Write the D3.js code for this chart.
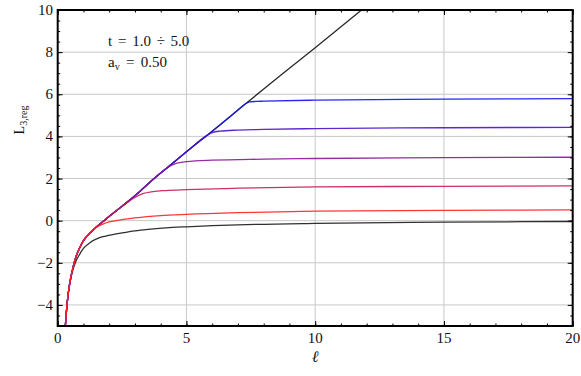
<!DOCTYPE html>
<html><head><meta charset="utf-8">
<script src="https://cdn.jsdelivr.net/npm/d3@7"></script>
<style>body{margin:0;background:#fff}svg{display:block}</style>
</head><body><svg id="c" width="581" height="376"></svg>
<script>
// ---- data ----
const xTicks = [0, 5, 10, 15, 20];
const yTicks = [-4, -2, 0, 2, 4, 6, 8, 10];
const envL = [0.28,0.32,0.36,0.42,0.5,0.6,0.7,0.85,1.0,1.25,1.5,1.8,2.2,2.7,3.2,3.7,4.3,5.0,6.0,7.0,8.0,9.0,10.0,11.0,12.0];
const envV = [-5.3,-4.6,-4.0,-3.35,-2.75,-2.2,-1.75,-1.3,-0.95,-0.6,-0.3,0.0,0.4,0.88,1.4,1.95,2.56,3.27,4.25,5.25,6.25,7.23,8.21,9.2,10.2];
const blackL = [0.28,0.36,0.5,0.6,0.7,0.85,1.0,1.25,1.6,1.87,2.5,3.0,3.5,4.2,5.0,6.0,7.0,10.0,15.0,20.0];
const blackV = [-5.3,-4.0,-2.8,-2.3,-1.95,-1.6,-1.32,-1.05,-0.82,-0.73,-0.58,-0.48,-0.41,-0.34,-0.29,-0.24,-0.2,-0.13,-0.07,-0.04];
const redL = [0.28,0.32,0.36,0.42,0.5,0.6,0.7,0.85,1.0,1.25,1.5,1.8,2.0,2.5,3.0,4.0,5.0,7.0,10.0,15.0,20.0];
const redV = [-5.3,-4.6,-4.0,-3.35,-2.75,-2.2,-1.75,-1.3,-0.95,-0.6,-0.32,-0.14,-0.06,0.05,0.13,0.24,0.3,0.38,0.45,0.49,0.51];
const crimsonL = [0.28,0.32,0.36,0.42,0.5,0.6,0.7,0.85,1.0,1.25,1.5,1.8,2.2,2.7,3.0,3.3,3.7,4.2,5.0,7.0,10.0,15.0,20.0];
const crimsonV = [-5.3,-4.6,-4.0,-3.35,-2.75,-2.2,-1.75,-1.3,-0.95,-0.6,-0.3,0.0,0.4,0.86,1.1,1.28,1.38,1.43,1.47,1.54,1.6,1.63,1.65];
const purpleL = [0.28,0.32,0.36,0.42,0.5,0.6,0.7,0.85,1.0,1.25,1.5,1.8,2.2,2.7,3.2,3.7,4.3,4.6,5.0,6.0,8.0,10.0,15.0,20.0];
const purpleV = [-5.3,-4.6,-4.0,-3.35,-2.75,-2.2,-1.75,-1.3,-0.95,-0.6,-0.3,0.0,0.4,0.88,1.4,1.95,2.55,2.72,2.8,2.87,2.92,2.95,2.99,3.01];
const violetL = [0.28,0.32,0.36,0.42,0.5,0.6,0.7,0.85,1.0,1.25,1.5,1.8,2.2,2.7,3.2,3.7,4.3,5.0,5.8,6.0,6.3,7.0,8.0,10.0,15.0,20.0];
const violetV = [-5.3,-4.6,-4.0,-3.35,-2.75,-2.2,-1.75,-1.3,-0.95,-0.6,-0.3,0.0,0.4,0.88,1.4,1.95,2.56,3.27,4.05,4.18,4.25,4.3,4.33,4.37,4.41,4.43];
const blueL = [0.28,0.32,0.36,0.42,0.5,0.6,0.7,0.85,1.0,1.25,1.5,1.8,2.2,2.7,3.2,3.7,4.3,5.0,6.0,7.0,7.3,7.45,7.7,8.0,10.0,15.0,20.0];
const blueV = [-5.3,-4.6,-4.0,-3.35,-2.75,-2.2,-1.75,-1.3,-0.95,-0.6,-0.3,0.0,0.4,0.88,1.4,1.95,2.56,3.27,4.25,5.25,5.55,5.64,5.66,5.67,5.72,5.77,5.79];

const series = [
  {name:"envelope", l:envL, v:envV, color:"#111111"},
  {name:"black", l:blackL, v:blackV, color:"#1a1a1a"},
  {name:"t=5", l:blueL, v:blueV, color:"#1010f0"},
  {name:"t=4", l:violetL, v:violetV, color:"#4a10c8"},
  {name:"t=3", l:purpleL, v:purpleV, color:"#8a1596"},
  {name:"t=2", l:crimsonL, v:crimsonV, color:"#c8185a"},
  {name:"t=1", l:redL, v:redV, color:"#ff2020"}
];

const FONT = "'Liberation Serif', 'Times New Roman', Tinos, 'DejaVu Serif', serif";
const svg = d3.select("#c").attr("font-family", FONT);
const x = d3.scaleLinear().domain([0,20]).range([57.7,572.7]);
const y = d3.scaleLinear().domain([-5,10]).range([326,10]);

svg.append("clipPath").attr("id","clip").append("rect")
  .attr("x",x(0)).attr("y",y(10)).attr("width",x(20)-x(0)).attr("height",y(-5)-y(10));

// grid
const g = svg.append("g");
g.selectAll(".gx").data(xTicks.filter(d=>d>0&&d<20)).join("line")
  .attr("x1",d=>x(d)).attr("x2",d=>x(d)).attr("y1",y(-5)).attr("y2",y(10))
  .attr("stroke","#c8c8c8").attr("stroke-width",1);
g.selectAll(".gy").data(yTicks.filter(d=>d>-5&&d<10)).join("line")
  .attr("y1",d=>y(d)).attr("y2",d=>y(d)).attr("x1",x(0)).attr("x2",x(20))
  .attr("stroke","#c8c8c8").attr("stroke-width",1);

// curves
const line = d3.line().x(d=>x(d[0])).y(d=>y(d[1])).curve(d3.curveMonotoneX);
const cg = svg.append("g").attr("clip-path","url(#clip)");
series.forEach(s=>{
  const pts = s.l.map((l,i)=>[l,s.v[i]]);
  cg.append("path").attr("d",line(pts)).attr("fill","none")
    .attr("stroke",s.color).attr("stroke-width",1.3).attr("stroke-opacity",0.9);
});

// axes (frame with inward ticks)
function tickify(sel){ sel.select(".domain").remove(); sel.selectAll("text").remove(); sel.selectAll("line").attr("stroke","#000").attr("stroke-width",1); }
const minorX = d3.range(0,21,1), minorY = d3.range(-5,10.01,0.5);
const axB = svg.append("g").attr("transform",`translate(0,${y(-5)})`);
axB.call(d3.axisBottom(x).tickValues(minorX).tickSize(-2.5)).call(tickify);
axB.append("g").call(d3.axisBottom(x).tickValues(xTicks).tickSize(-5)).call(tickify);
const axT = svg.append("g").attr("transform",`translate(0,${y(10)})`);
axT.call(d3.axisTop(x).tickValues(minorX).tickSize(-2.5)).call(tickify);
axT.append("g").call(d3.axisTop(x).tickValues(xTicks).tickSize(-5)).call(tickify);
const axL = svg.append("g").attr("transform",`translate(${x(0)},0)`);
axL.call(d3.axisLeft(y).tickValues(minorY).tickSize(-2.5)).call(tickify);
axL.append("g").call(d3.axisLeft(y).tickValues(yTicks).tickSize(-5)).call(tickify);
const axR = svg.append("g").attr("transform",`translate(${x(20)},0)`);
axR.call(d3.axisRight(y).tickValues(minorY).tickSize(-2.5)).call(tickify);
axR.append("g").call(d3.axisRight(y).tickValues(yTicks).tickSize(-5)).call(tickify);

svg.append("rect").attr("x",x(0)).attr("y",y(10)).attr("width",x(20)-x(0)).attr("height",y(-5)-y(10))
  .attr("fill","none").attr("stroke","#000").attr("stroke-width",2);

// tick labels
const fmt = d=> d<0 ? "\u2212"+Math.abs(d) : String(d);
svg.selectAll(".xl").data(xTicks).join("text")
  .attr("x",d=>x(d)).attr("y",343).attr("text-anchor","middle").attr("font-size",15).attr("fill","#111").text(fmt);
svg.selectAll(".yl").data(yTicks).join("text")
  .attr("x",53).attr("y",d=>y(d)+5).attr("text-anchor","end").attr("font-size",15).attr("fill","#111").text(fmt);

// axis titles
svg.append("text").attr("x",x(10)).attr("y",362).attr("text-anchor","middle")
  .attr("font-size",16).attr("font-style","italic").attr("fill","#111").text("\u2113");
const yl = svg.append("text").attr("transform","translate(24,120) rotate(-90)").attr("text-anchor","middle").attr("font-size",14).attr("fill","#111");
yl.append("tspan").text("L");
yl.append("tspan").attr("font-size",10).attr("dy",3).text("3,reg");

// annotation
svg.append("text").attr("x",108).attr("y",45.5).attr("font-size",15).attr("word-spacing",2).attr("fill","#111").text("t = 1.0 \u00f7 5.0");
const an = svg.append("text").attr("x",108).attr("y",67).attr("font-size",15).attr("word-spacing",2.5).attr("fill","#111");
an.append("tspan").text("a");
an.append("tspan").attr("font-size",10).attr("dy",3).text("v");
an.append("tspan").attr("dy",-3).text(" = 0.50");
</script></body></html>
